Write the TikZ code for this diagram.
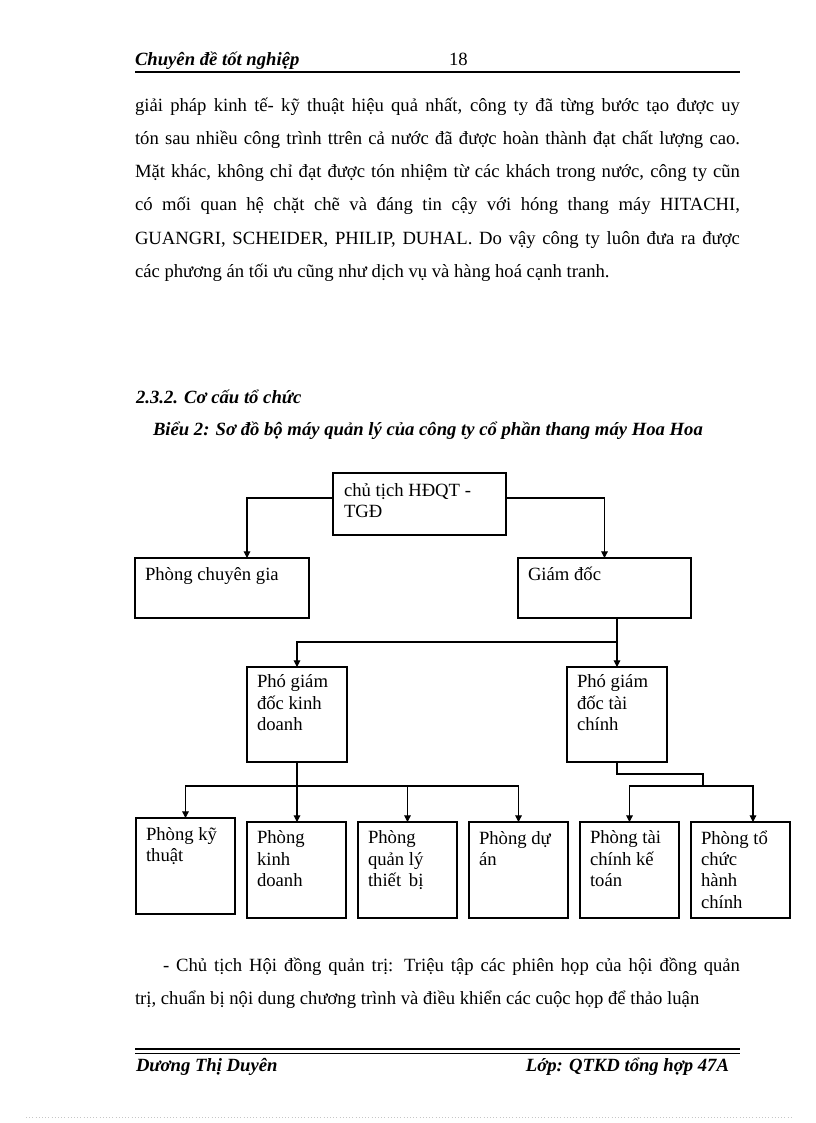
\documentclass[tikz,border=0pt]{standalone}
\usepackage{fontspec}
\setmainfont{Liberation Serif}
\usetikzlibrary{arrows.meta}
\begin{document}
\begin{tikzpicture}[x=0.75pt,y=-0.75pt,
  every node/.style={inner sep=0pt, outer sep=0pt},
  box/.style={draw=black, line width=0.8pt, rectangle, anchor=north west},
  txt/.style={font=\fontsize{14}{16.1}\selectfont, anchor=base west, align=left},
  body/.style={font=\fontsize{14}{16.8}\selectfont, anchor=base west},
  bi/.style={font=\fontsize{14}{16.8}\selectfont\bfseries\itshape, anchor=base west},
  conn/.style={line width=0.8pt},
  arr/.style={conn, -{Triangle[length=5pt,width=5pt]}}]
\useasboundingbox (0,0) rectangle (816,1123);
\fill[white] (0,0) rectangle (816,1123);

% header
\node[bi] (hdr) at (135,66) {Chuyên đề tốt nghiệp};
\node[body] (pg) at (449,66) {18};
\draw[line width=1.6pt] (135,72) -- (740,72);

% body paragraph
\node[body] (l1) at (135,112) {\makebox[453.75pt][s]{giải pháp kinh tế- kỹ thuật hiệu quả nhất, công ty đã từng bước tạo được uy}};
\node[body] (l2) at (135,145) {\makebox[453.75pt][s]{tón sau nhiều công trình ttrên cả nước đã được hoàn thành đạt chất lượng cao.}};
\node[body] (l3) at (135,178) {\makebox[453.75pt][s]{Mặt khác, không chỉ đạt được tón nhiệm từ các khách trong nước, công ty cũn}};
\node[body] (l4) at (135,211) {\makebox[453.75pt][s]{có mối quan hệ chặt chẽ và đáng tin cậy với hóng thang máy HITACHI,}};
\node[body] (l5) at (135,244) {\makebox[453.75pt][s]{GUANGRI, SCHEIDER, PHILIP, DUHAL. Do vậy công ty luôn đưa ra được}};
\node[body] (l6) at (135,277) {các phương án tối ưu cũng như dịch vụ và hàng hoá cạnh tranh.};

% headings
\node[bi] (sec) at (136,403) {2.3.2. Cơ cấu tổ chức};
\node[bi] (cap) at (153,435) {Biểu 2: Sơ đồ bộ máy quản lý của công ty cổ phần thang máy Hoa Hoa};

% boxes
\node[box, minimum width=129.75pt, minimum height=46.5pt] (A) at (333,473) {};
\node[box, minimum width=130.5pt, minimum height=45pt] (B) at (135,558) {};
\node[box, minimum width=129.75pt, minimum height=45pt] (C) at (518,558) {};
\node[box, minimum width=75pt, minimum height=71.25pt] (D) at (247,667) {};
\node[box, minimum width=75pt, minimum height=71.25pt] (E) at (567,667) {};
\node[box, minimum width=74.25pt, minimum height=72pt] (F1) at (136,818) {};
\node[box, minimum width=74.25pt, minimum height=72pt] (F2) at (247,822) {};
\node[box, minimum width=74.25pt, minimum height=72pt] (F3) at (358,822) {};
\node[box, minimum width=74.25pt, minimum height=72pt] (F4) at (469,822) {};
\node[box, minimum width=74.25pt, minimum height=72pt] (F5) at (580,822) {};
\node[box, minimum width=74.25pt, minimum height=72pt] (F6) at (691,822) {};

% box texts (base anchor = baseline of the last line; line pitch 21.47px)
\node[txt] (At) at ([shift={(11,44.5)}]A.north west) {chủ tịch HĐQT -\\TGĐ};
\node[txt] (Bt) at ([shift={(10,22)}]B.north west) {Phòng chuyên gia};
\node[txt] (Ct) at ([shift={(10,22)}]C.north west) {Giám đốc};
\node[txt] (Dt) at ([shift={(10,63.9)}]D.north west) {Phó giám\\đốc kinh\\doanh};
\node[txt] (Et) at ([shift={(10,63.9)}]E.north west) {Phó giám\\đốc tài\\chính};
\node[txt] (F1t) at ([shift={(10,43.5)}]F1.north west) {Phòng kỹ\\thuật};
\node[txt] (F2t) at ([shift={(10,64.9)}]F2.north west) {Phòng\\kinh\\doanh};
\node[txt] (F3t) at ([shift={(10,64.9)}]F3.north west) {Phòng\\quản lý\\thiết\, bị};
\node[txt] (F4t) at ([shift={(10,43.5)}]F4.north west) {Phòng dự\\án};
\node[txt] (F5t) at ([shift={(10,64.9)}]F5.north west) {Phòng tài\\chính kế\\toán};
\node[txt] (F6t) at ([shift={(10,86.4)}]F6.north west) {Phòng tổ\\chức\\hành\\chính};

% connectors
\draw[arr] ([shift={(0,-6)}]A.west) -| ([shift={(25,0)}]B.north);
\draw[arr] ([shift={(0,-6)}]A.east) -| (C.north);
\coordinate (J1) at (617,642);
\draw[arr] ([shift={(12.5,0)}]C.south) -- (E.north);
\draw[arr] (J1) -| (D.north);
\coordinate (J2) at (297,786);
\draw[arr] (D.south) -- (D.south |- F2.north);
\draw[arr] (J2) -| (F1.north);
\draw[arr] (J2) -| (F3.north);
\draw[arr] (J2) -| (F4.north);
\coordinate (J3) at (703,786);
\draw[conn] (E.south) -- ++(0,12) -| (J3);
\draw[arr] (J3) -| (F5.north);
\draw[arr] (J3) -| ([shift={(12.5,0)}]F6.north);

% text below
\node[body] (p1) at (163,971) {\makebox[432.75pt][s]{- Chủ tịch Hội đồng quản trị: Triệu tập các phiên họp của hội đồng quản}};
\node[body] (p2) at (135,1004) {trị, chuẩn bị nội dung chương trình và điều khiển các cuộc họp để thảo luận};

% footer
\draw[line width=1.5pt] (135,1049) -- (740,1049);
\draw[line width=0.5pt] (135,1053) -- (740,1053);
\node[bi] (ft1) at (136,1071) {Dương Thị Duyên};
\node[bi, anchor=base east] (ft2) at (729,1071) {Lớp: QTKD tổng hợp 47A};
\draw[gray!45, dotted] (26,1117) -- (792,1117);
\end{tikzpicture}
\end{document}
